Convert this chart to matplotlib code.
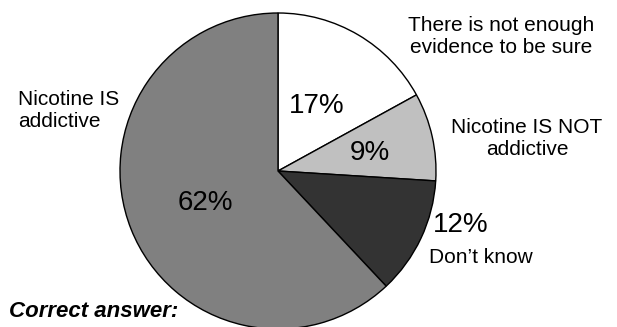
import matplotlib
matplotlib.use("Agg")
import matplotlib.pyplot as plt

# survey answers, clockwise from 12 o'clock
answers = ["There is not enough\nevidence to be sure", "Nicotine IS NOT\naddictive",
           "Don\u2019t know", "Nicotine IS\naddictive"]
shares = [17, 9, 12, 62]
colours = ["#ffffff", "#c0c0c0", "#333333", "#808080"]

W, H = 617, 327
plt.rcParams["font.family"] = ["Liberation Sans", "DejaVu Sans"]

fig = plt.figure(figsize=(W / 100, H / 100), dpi=100)

# pie centre (278,171), radius 158 in pixels
cx, cy, r = 278, 171, 158
ax = fig.add_axes([(cx - r) / W, (H - cy - r) / H, 2 * r / W, 2 * r / H])
ax.pie(shares, colors=colours, startangle=90, counterclock=False, radius=1,
       wedgeprops=dict(edgecolor="black", linewidth=1.0))
ax.set_xlim(-1, 1)
ax.set_ylim(-1, 1)
ax.set_aspect("auto")
ax.axis("off")


def px(x, y):
    return x / W, 1 - y / H


# category labels (x, baseline of last line, alignment)
label_pos = [(501, 53, "center"), (527, 155, "center"), (429, 263, "left"), (18, 127, "left")]
for text, (x, y, ha) in zip(answers, label_pos):
    fig.text(*px(x, y), text, ha=ha, va="baseline", fontsize=15, linespacing=1.2,
             multialignment="center" if ha == "center" else "left")

# percentages
pct_pos = [(317, 113, "center"), (370, 160, "center"), (433, 232, "left"), (205, 210, "center")]
for v, (x, y, ha) in zip(shares, pct_pos):
    fig.text(*px(x, y), f"{v}%", ha=ha, va="baseline", fontsize=20)

fig.text(*px(9, 317), "Correct answer:", ha="left", va="baseline", fontsize=16,
         fontweight="bold", fontstyle="italic")

fig.savefig("out.png", dpi=100)
